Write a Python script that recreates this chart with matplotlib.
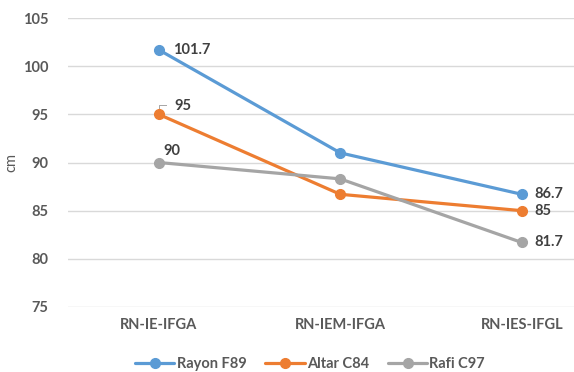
import matplotlib
matplotlib.use('Agg')
import matplotlib.pyplot as plt

# data
categories = ['RN-IE-IFGA', 'RN-IEM-IFGA', 'RN-IES-IFGL']
rayon = [101.7, 91.0, 86.7]
altar = [95.0, 86.7, 85.0]
rafi = [90.0, 88.3, 81.7]
series_names = ['Rayon F89', 'Altar C84', 'Rafi C97']
colors = ['#5B9BD5', '#ED7D31', '#A5A5A5']
yticks = [75, 80, 85, 90, 95, 100, 105]

plt.rcParams['font.family'] = ['Lato', 'DejaVu Sans']

fig = plt.figure(figsize=(5.74, 3.72), dpi=100)
ax = fig.add_axes([68/574, 1-307/372, 1-68/574, (307-18)/372])

x = list(range(len(categories)))
for vals, name, c in zip([rayon, altar, rafi], series_names, colors):
    ax.plot(x, vals, color=c, lw=2.3, marker='o', ms=7, label=name,
            solid_capstyle='round', zorder=3)

ax.set_xlim(-0.5, 2.288)
ax.set_ylim(75, 105)
ax.set_yticks(yticks)
ax.set_xticks(x)
ax.set_xticklabels(categories)
ax.grid(axis='y', color='#D9D9D9', lw=1)
ax.set_axisbelow(True)
for s in ax.spines.values():
    s.set_visible(False)
ax.tick_params(length=0, labelsize=10.5, colors='#595959', pad=8)
ax.tick_params(axis='y', pad=14)
for t in ax.get_xticklabels() + ax.get_yticklabels():
    t.set_fontweight('bold')
ax.set_ylabel('cm', color='#595959', fontsize=10.5)
ax.yaxis.set_label_coords(-0.098, 0.5)

lab = dict(fontsize=10.5, fontweight='bold', color='#404040', va='center')
# first category labels
ax.annotate('101.7', (0, rayon[0]), xytext=(10, 0), textcoords='offset points', **lab)
ax.annotate('95', (0, altar[0]), xytext=(11, 6), textcoords='offset points', **lab)
ax.plot([0, 0, 0.04], [altar[0] + 0.3, altar[0] + 1.0, altar[0] + 1.0],
        color='#A6A6A6', lw=0.7, zorder=2)
ax.annotate('90', (0, rafi[0]), xytext=(3, 8), textcoords='offset points', **lab)
# last category labels
for vals in [rayon, altar, rafi]:
    ax.annotate('%g' % vals[-1], (2, vals[-1]), xytext=(9, 0),
                textcoords='offset points', **lab)

leg = fig.legend(loc='center', bbox_to_anchor=(310/574, 1-364/372), ncol=3,
                 frameon=False, handlelength=2.7, columnspacing=1.3,
                 handletextpad=0.15, fontsize=10.5)
for t in leg.get_texts():
    t.set_color('#595959')
    t.set_fontweight('bold')

fig.savefig('out.png', dpi=100)
